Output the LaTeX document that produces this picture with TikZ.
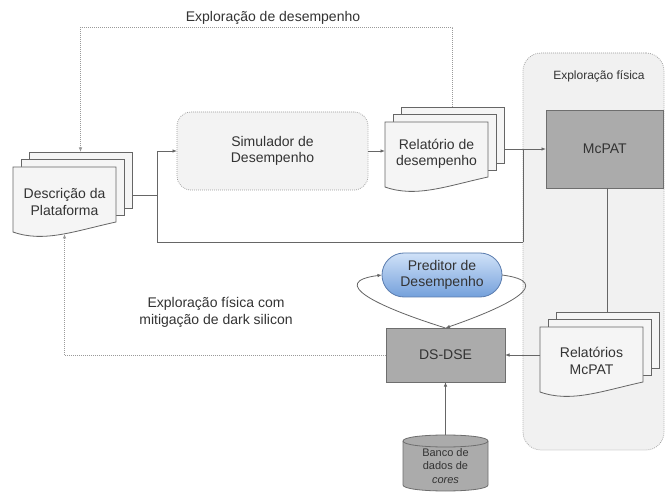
\documentclass[tikz,border=0pt]{standalone}
\usepackage{fontspec}
\setmainfont{Liberation Sans}
\usetikzlibrary{arrows.meta,calc}
\definecolor{txt}{HTML}{333333}
\definecolor{ln}{HTML}{666666}
\definecolor{dln}{HTML}{9A9A9A}
\definecolor{docfill}{HTML}{F5F5F5}
\definecolor{boxfill}{HTML}{ABABAB}
\definecolor{boxline}{HTML}{6E6E6E}
\definecolor{panelfill}{HTML}{F1F1F1}
\definecolor{simfill}{HTML}{F3F3F3}
\definecolor{predtop}{HTML}{D0E2F8}
\definecolor{predbot}{HTML}{74A0DB}
\definecolor{predline}{HTML}{5A7CAE}
\tikzset{
 base/.style={inner sep=0pt, outer sep=0pt, text=txt, align=center, font=\fontsize{14}{16.5}\selectfont},
 sheet/.style={draw=ln, fill=docfill, line width=0.8pt, minimum width=103pt, minimum height=56pt, inner sep=0pt, outer sep=0pt},
 docframe/.style={minimum width=103pt, minimum height=56pt, inner sep=0pt, outer sep=0pt},
 docpath/.style={draw=ln, fill=docfill, line width=0.8pt},
 graybox/.style={base, draw=boxline, fill=boxfill, line width=0.8pt},
 conn/.style={draw=ln, line width=0.8pt},
 arr/.style={-{Latex[length=4.5pt,width=3.5pt]}},
 dotl/.style={draw=dln, line width=0.7pt, dash pattern=on 0.8pt off 1.2pt},
 dotbox/.style={base, draw=dln, line width=0.7pt, dash pattern=on 0.8pt off 1.2pt},
}
% #1 name, #2 left x, #3 top y, #4 text, #5 text centre offset
\newcommand\docstack[5]{%
 \node[sheet] (#1-c) at ({#2+16+51.5},{#3-15+28}) {};
 \node[sheet] (#1-b) at ({#2+8+51.5},{#3-7.5+28}) {};
 \draw[docpath, shift={(#2,#3)}] (0,0) -- (103,0) -- (103,55) .. controls (61.8,64) and (30.9,76) .. (0,65) -- cycle;
 \node[docframe] (#1) at ({#2+51.5},{#3+28}) {};
 \node[base] (#1-t) at ({#2+51.5},{#3+#5}) {#4};
 \coordinate (#1-s) at ({#2+51.5},{#3+67});
}
\begin{document}
\begin{tikzpicture}[x=1pt,y=-1pt]
\useasboundingbox (0,0) rectangle (665,492);
\fill[white] (0,0) rectangle (665,492);

% panel
\node[dotbox, fill=panelfill, rounded corners=18pt, minimum width=141pt, minimum height=397pt] (panel) at (593.5,251.5) {};
\node[base, font=\fontsize{12}{14}\selectfont] (plabel) at (599,76) {Exploração física};

% documents
\docstack{desc}{13}{167}{Descrição da\\Plataforma}{35}
\docstack{rel}{385}{122}{Relatório de\\desempenho}{32}
\docstack{mrep}{540}{327}{Relatórios\\McPAT}{34}

% boxes
\node[dotbox, fill=simfill, rounded corners=14pt, minimum width=191pt, minimum height=78pt] (sim) at (272.5,151) {Simulador de\\Desempenho};
\node[graybox, minimum width=117.5pt, minimum height=78pt] (mcpat) at (604.75,149) {McPAT};
\node[graybox, minimum width=119pt, minimum height=54pt] (dsdse) at (445.5,355) {DS-DSE};
\node[base, draw=predline, line width=0.8pt, top color=predtop, bottom color=predbot, rounded corners=22pt, minimum width=120pt, minimum height=44pt] (pred) at (442,275) {Preditor de\\Desempenho};

% cylinder
\path[draw=boxline, fill=boxfill, line width=0.8pt] (403,441) -- (403,485) .. controls (403,493) and (488,493) .. (488,485) -- (488,441) .. controls (488,433) and (403,433) .. (403,441) -- cycle;
\draw[boxline, line width=0.8pt] (403,441) .. controls (403,449) and (488,449) .. (488,441);
\node[base, font=\fontsize{11}{13.5}\selectfont, minimum width=85pt, minimum height=62pt] (banco) at (445.5,466) {Banco de\\dados de\\\textit{cores}};

% labels
\node[base] (lbltop) at (273,18) {Exploração de desempenho};
\node[base, font=\fontsize{14}{17}\selectfont] (lblbot) at (216,312) {Exploração física com\\mitigação de dark silicon};

% connectors
\coordinate (j2) at (523,242);
\draw[conn] (desc-c.east |- desc.center) -- ++(25,0) coordinate (j1);
\draw[conn, arr] (j1) |- (sim.west);
\draw[conn] (j1) |- (j2);
\draw[conn] (j2) -- (j2 |- mcpat.west);
\draw[conn, arr] (rel-c.east |- mcpat.west) -- (mcpat.west);
\draw[conn, arr] (sim.east) -- (sim.east -| rel.west);
\draw[conn] (mcpat.south -| mrep-c.north) -- (mrep-c.north);
\draw[conn, arr] (mrep.west) -- (mrep.west -| dsdse.east);
\draw[conn, arr] (banco.north) -- (dsdse.south);
\draw[conn, arr] (dsdse.north) .. controls (375,306) and (328,282) .. (pred.west);
\draw[conn, arr] (pred.east) .. controls (556,282) and (509,306) .. (dsdse.north);
\draw[dotl, arr] (rel-c.north) -- ++(0,-80) -| (desc-c.north);
\draw[dotl, arr] (dsdse.west) -| (desc-s);
\end{tikzpicture}
\end{document}
